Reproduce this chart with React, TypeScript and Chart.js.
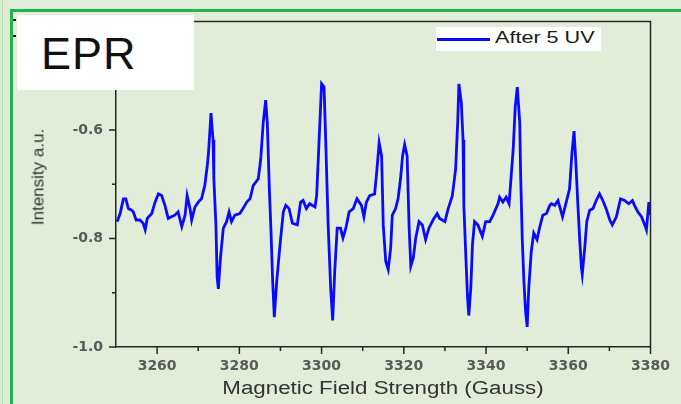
import React, { useEffect, useRef } from "react";
import { Chart, registerables } from "chart.js";

Chart.register(...registerables);

// ---- data ----
const fieldGauss = [
  3250.3, 3251.0, 3251.8, 3252.4, 3253.0, 3253.8, 3254.2, 3254.9, 3255.8, 3256.6,
  3257.1, 3257.6, 3258.7, 3259.5, 3260.3, 3261.1, 3261.9, 3262.7, 3263.5, 3264.3,
  3265.1, 3266.0, 3266.8, 3267.3, 3268.0, 3268.4, 3269.2, 3270.0, 3270.8, 3271.6,
  3272.2, 3272.5, 3273.1, 3273.6, 3273.8, 3274.3, 3274.6, 3274.9, 3275.4, 3276.1,
  3276.9, 3277.5, 3278.1, 3278.9, 3280.1, 3280.9, 3281.8, 3282.6, 3283.4, 3284.6,
  3285.2, 3285.8, 3286.4, 3286.8, 3287.3, 3287.7, 3288.1, 3288.5, 3289.1, 3289.9,
  3290.7, 3291.3, 3292.1, 3292.9, 3294.1, 3294.9, 3295.5, 3296.3, 3297.1, 3298.4,
  3298.8, 3299.4, 3300.0, 3300.6, 3301.0, 3301.6, 3302.2, 3302.7, 3303.2, 3303.8,
  3304.6, 3305.2, 3305.9, 3306.7, 3307.7, 3308.6, 3309.7, 3310.3, 3310.9, 3311.7,
  3312.9, 3313.4, 3314.0, 3314.6, 3315.0, 3315.6, 3316.2, 3316.8, 3317.2, 3318.0,
  3318.6, 3319.2, 3319.7, 3320.2, 3320.8, 3321.3, 3321.7, 3322.3, 3322.9, 3323.7,
  3324.5, 3325.3, 3326.1, 3327.1, 3328.1, 3328.7, 3330.0, 3330.8, 3331.8, 3332.6,
  3333.1, 3333.4, 3334.0, 3334.4, 3334.6, 3335.1, 3335.5, 3335.8, 3336.3, 3336.7,
  3337.2, 3338.0, 3339.1, 3339.9, 3340.9, 3341.7, 3342.9, 3343.3, 3344.1, 3344.9,
  3345.6, 3346.0, 3346.6, 3347.1, 3347.6, 3348.2, 3348.4, 3348.8, 3349.2, 3349.6,
  3350.0, 3350.4, 3351.0, 3351.6, 3352.4, 3353.0, 3353.8, 3354.7, 3355.5, 3355.9,
  3356.7, 3357.5, 3358.6, 3359.5, 3360.3, 3360.9, 3361.4, 3361.8, 3362.3, 3362.8,
  3363.2, 3363.4, 3364.0, 3364.5, 3365.2, 3366.0, 3366.8, 3367.6, 3368.4, 3369.2,
  3370.1, 3370.7, 3371.7, 3372.7, 3373.7, 3374.7, 3375.6, 3376.1, 3376.9, 3377.8,
  3378.6, 3379.0, 3379.6, 3379.8,
];

const intensity = [
  -0.769, -0.754, -0.727, -0.727, -0.745, -0.748, -0.751, -0.766, -0.766, -0.772,
  -0.784, -0.763, -0.754, -0.733, -0.718, -0.721, -0.739, -0.763, -0.760, -0.757,
  -0.751, -0.778, -0.757, -0.721, -0.745, -0.766, -0.742, -0.733, -0.727, -0.702,
  -0.666, -0.642, -0.569, -0.618, -0.690, -0.775, -0.872, -0.893, -0.836, -0.781,
  -0.769, -0.751, -0.769, -0.757, -0.754, -0.745, -0.733, -0.727, -0.702, -0.690,
  -0.654, -0.587, -0.545, -0.587, -0.709, -0.787, -0.878, -0.945, -0.878, -0.811,
  -0.751, -0.739, -0.745, -0.772, -0.775, -0.733, -0.730, -0.745, -0.736, -0.742,
  -0.721, -0.618, -0.515, -0.521, -0.618, -0.775, -0.890, -0.951, -0.860, -0.781,
  -0.781, -0.799, -0.781, -0.751, -0.745, -0.727, -0.739, -0.760, -0.733, -0.721,
  -0.718, -0.678, -0.624, -0.648, -0.775, -0.842, -0.857, -0.818, -0.757, -0.745,
  -0.727, -0.690, -0.648, -0.627, -0.648, -0.781, -0.851, -0.836, -0.799, -0.769,
  -0.775, -0.802, -0.781, -0.766, -0.754, -0.763, -0.769, -0.745, -0.721, -0.672,
  -0.587, -0.515, -0.551, -0.618, -0.739, -0.836, -0.909, -0.942, -0.890, -0.811,
  -0.769, -0.775, -0.796, -0.769, -0.769, -0.757, -0.736, -0.724, -0.733, -0.724,
  -0.736, -0.696, -0.636, -0.557, -0.521, -0.587, -0.678, -0.799, -0.878, -0.933,
  -0.963, -0.890, -0.824, -0.790, -0.802, -0.781, -0.757, -0.754, -0.739, -0.736,
  -0.739, -0.730, -0.760, -0.733, -0.709, -0.642, -0.602, -0.654, -0.733, -0.805,
  -0.854, -0.866, -0.818, -0.769, -0.748, -0.745, -0.730, -0.718, -0.730, -0.745,
  -0.766, -0.775, -0.760, -0.727, -0.730, -0.736, -0.730, -0.739, -0.751, -0.760,
  -0.775, -0.784, -0.733, -0.757,
];

const xMajorTicks = [3260, 3280, 3300, 3320, 3340, 3360, 3380];
const xMinorTicks = [3270, 3290, 3310, 3330, 3350, 3370];
const yMajorTicks = [-1.0, -0.8, -0.6, -0.4];
const yMinorTicks = [-0.9, -0.7, -0.5];
const xRange = [3250, 3380];
const yRange = [-1.0, -0.4];

const seriesLabel = "After 5 UV";
const xTitle = "Magnetic Field Strength (Gauss)";
const yTitle = "Intensity a.u.";
const panelTitle = "EPR";

const LINE_BLUE = "#0a0aff";
const AXIS_DARK = "#262626";

const frameAndTicks = {
  id: "frameAndTicks",
  afterDraw(chart: any) {
    const { ctx, chartArea, scales } = chart;
    const { left, right, top, bottom } = chartArea;
    const x = scales.x;
    const y = scales.y;
    ctx.save();
    ctx.strokeStyle = AXIS_DARK;
    ctx.lineWidth = 1.5;
    ctx.beginPath();
    ctx.moveTo(left, top);
    ctx.lineTo(right, top);
    ctx.lineTo(right, bottom);
    ctx.stroke();
    ctx.beginPath();
    xMajorTicks.forEach((v) => {
      const px = x.getPixelForValue(v);
      ctx.moveTo(px, bottom);
      ctx.lineTo(px, bottom + 7);
    });
    xMinorTicks.forEach((v) => {
      const px = x.getPixelForValue(v);
      ctx.moveTo(px, bottom);
      ctx.lineTo(px, bottom + 4);
    });
    yMajorTicks.forEach((v) => {
      const py = y.getPixelForValue(v);
      ctx.moveTo(left, py);
      ctx.lineTo(left - 7, py);
    });
    yMinorTicks.forEach((v) => {
      const py = y.getPixelForValue(v);
      ctx.moveTo(left, py);
      ctx.lineTo(left - 4, py);
    });
    ctx.stroke();
    ctx.restore();
  },
};

export default function App() {
  const canvasRef = useRef<HTMLCanvasElement | null>(null);

  useEffect(() => {
    document.body.style.margin = "0";
    const canvas = canvasRef.current;
    if (!canvas) return;
    const tickFont = { family: "'DejaVu Sans', sans-serif", size: 14, weight: "bold" as const };
    const chart = new Chart(canvas, {
      type: "line",
      data: {
        datasets: [
          {
            label: seriesLabel,
            data: fieldGauss.map((g, i) => ({ x: g, y: intensity[i] })),
            borderColor: LINE_BLUE,
            backgroundColor: LINE_BLUE,
            borderWidth: 2.8,
            pointRadius: 0,
            tension: 0,
            fill: false,
          },
        ],
      },
      options: {
        animation: false,
        responsive: false,
        maintainAspectRatio: false,
        layout: { padding: { left: 0, right: 30, top: 17, bottom: 0 } },
        plugins: { legend: { display: false }, tooltip: { enabled: false } },
        scales: {
          x: {
            type: "linear",
            min: xRange[0],
            max: xRange[1],
            grid: { display: false, drawTicks: false },
            border: { display: true, color: AXIS_DARK, width: 1.5 },
            ticks: {
              font: tickFont,
              color: "#5a5a5a",
              padding: 11,
              maxRotation: 0,
              autoSkip: false,
              callback: (v: any) => String(v),
            },
            afterBuildTicks: (s: any) => {
              s.ticks = xMajorTicks.map((v) => ({ value: v }));
            },
            afterFit: (s: any) => {
              s.height = 57;
            },
          },
          y: {
            type: "linear",
            min: yRange[0],
            max: yRange[1],
            grid: { display: false, drawTicks: false },
            border: { display: true, color: AXIS_DARK, width: 1.5 },
            ticks: {
              font: tickFont,
              color: "#5a5a5a",
              padding: 13,
              autoSkip: false,
              callback: (v: any) => Number(v).toFixed(1),
            },
            afterBuildTicks: (s: any) => {
              s.ticks = yMajorTicks.map((v) => ({ value: v }));
            },
            afterFit: (s: any) => {
              s.width = 116;
            },
          },
        },
      },
      plugins: [frameAndTicks],
    });
    return () => chart.destroy();
  }, []);

  const sans = "'Liberation Sans', Arial, sans-serif";

  return (
    <div
      style={{
        position: "relative",
        width: 681,
        height: 404,
        overflow: "hidden",
        background: "#e1edd8",
        fontFamily: sans,
      }}
    >
      {/* left pale strip and green frame */}
      <div style={{ position: "absolute", left: 0, top: 0, width: 10, height: 404, background: "#dbeed5" }} />
      <div style={{ position: "absolute", left: 2, top: 0, width: 1, height: 404, background: "#b9e0b3" }} />
      <div style={{ position: "absolute", left: 10, top: 9, width: 3, height: 395, background: "#22b450" }} />
      <div style={{ position: "absolute", left: 10, top: 9, width: 671, height: 3, background: "#22b450" }} />

      <canvas
        ref={canvasRef}
        width={681}
        height={404}
        style={{ position: "absolute", left: 0, top: 0, width: 681, height: 404, display: "block" }}
      />

      {/* partially hidden marks behind the title box */}
      <div style={{ position: "absolute", left: 13, top: 19, width: 3, height: 2, background: "#111" }} />
      <div style={{ position: "absolute", left: 13, top: 35, width: 3, height: 2, background: "#111" }} />

      {/* EPR title box */}
      <div style={{ position: "absolute", left: 17, top: 15, width: 177, height: 75, background: "#ffffff" }} />
      <div
        style={{
          position: "absolute",
          left: 41,
          top: 31,
          fontSize: 45,
          lineHeight: "45px",
          color: "#111",
          whiteSpace: "nowrap",
          letterSpacing: 1,
        }}
      >
        {panelTitle}
      </div>

      {/* legend */}
      <div style={{ position: "absolute", left: 436, top: 27, width: 165, height: 24, background: "#ffffff" }} />
      <div style={{ position: "absolute", left: 437, top: 38, width: 53, height: 2.5, background: LINE_BLUE }} />
      <div
        style={{
          position: "absolute",
          left: 495,
          top: 29,
          fontSize: 17,
          lineHeight: "17px",
          color: "#1a1a1a",
          whiteSpace: "nowrap",
          transform: "scaleX(1.27)",
          transformOrigin: "0 0",
        }}
      >
        {seriesLabel}
      </div>

      {/* axis titles */}
      <div
        style={{
          position: "absolute",
          left: 38,
          top: 177,
          fontSize: 17,
          lineHeight: "17px",
          color: "#333",
          whiteSpace: "nowrap",
          transform: "translate(-50%, -50%) rotate(-90deg)",
        }}
      >
        {yTitle}
      </div>
      <div
        style={{
          position: "absolute",
          left: 383,
          top: 388,
          fontSize: 18,
          lineHeight: "18px",
          color: "#333",
          whiteSpace: "nowrap",
          transform: "translate(-50%, -50%) scaleX(1.24)",
        }}
      >
        {xTitle}
      </div>
    </div>
  );
}
